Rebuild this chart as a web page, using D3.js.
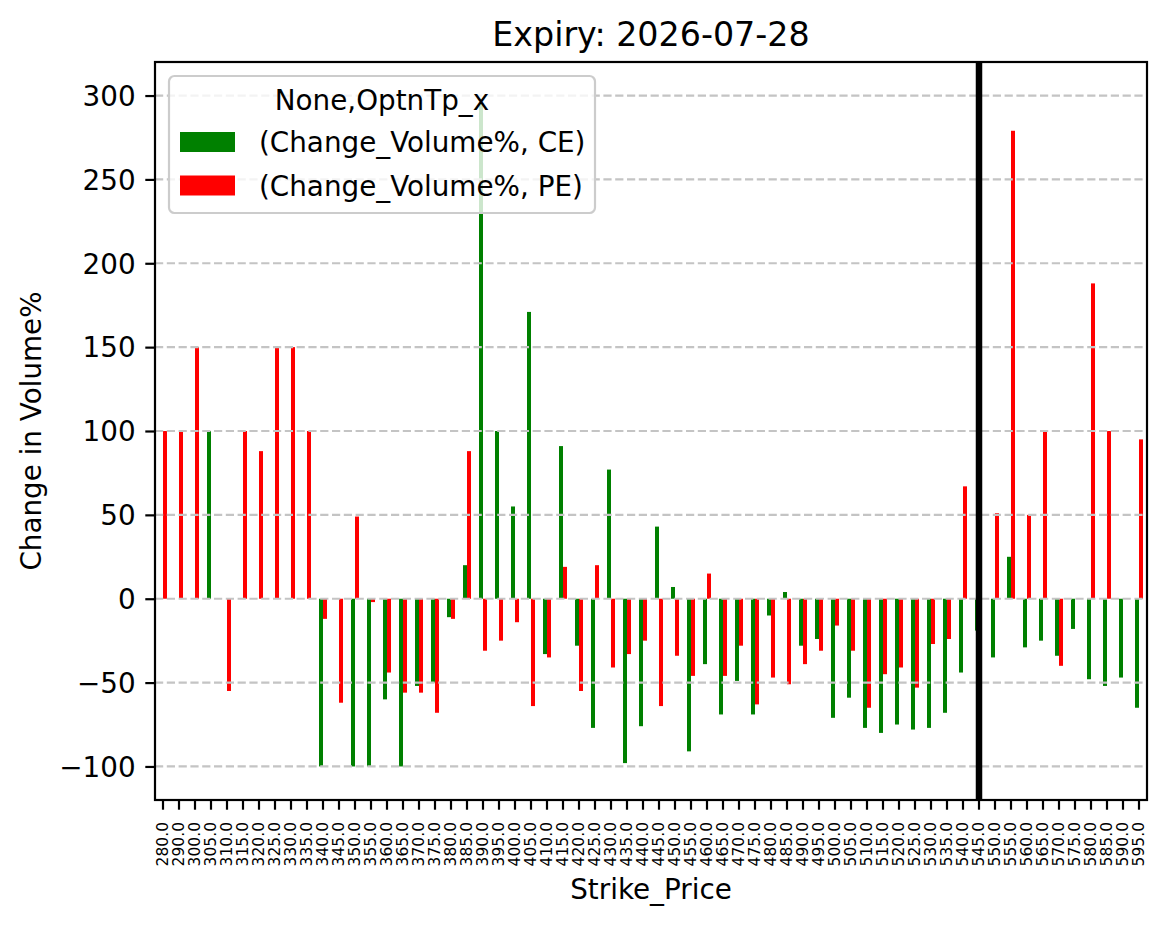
<!DOCTYPE html>
<html>
<head>
<meta charset="utf-8">
<script src="https://cdn.jsdelivr.net/npm/d3@7"></script>
<style>
  body { margin: 0; background: #fff; }
  text { font-family: "DejaVu Sans", sans-serif; fill: #000; }
</style>
</head>
<body>
<div id="chart"></div>
<script>
// strike prices (categories)
const strikes = [280, 290, 300, 305, 310, 315, 320, 325, 330, 335, 340, 345, 350, 355, 360, 365, 370, 375, 380, 385,
  390, 395, 400, 405, 410, 415, 420, 425, 430, 435, 440, 445, 450, 455, 460, 465, 470, 475, 480, 485,
  490, 495, 500, 505, 510, 515, 520, 525, 530, 535, 540, 545, 550, 555, 560, 565, 570, 575, 580, 585, 590, 595]

// (Change_Volume%, CE)
const ceChange = [null, null, null, 100, null, null, null, null, null, null, -100, null, -100, -100, -60, -100, -52, -50, -11, 20,
  295, 100, 55, 171, -33, 91, -28, -77, 77, -98, -76, 43, 7, -91, -39, -69, -49, -69, -10, 4,
  -28, -24, -71, -59, -77, -80, -75, -78, -77, -68, -44, -19, -35, 25, -29, -25, -34, -18, -48, -52, -47, -65]

// (Change_Volume%, PE)
const peChange = [100, 100, 150, null, -55, 100, 88, 150, 150, 100, -12, -62, 49, -2, -44, -56, -56, -68, -12, 88,
  -31, -25, -14, -64, -35, 19, -55, 20, -41, -33, -25, -64, -34, -46, 15, -46, -28, -63, -47, -51,
  -39, -31, -16, -31, -65, -45, -41, -53, -27, -24, 67, null, 51, 279, 50, 100, -40, null, 188, 100, null, 95]

const yTicks = [-100, -50, 0, 50, 100, 150, 200, 250, 300]
const spotStrike = 545

const width = 1167
const height = 928
const margin = { top: 62, right: 20, bottom: 128, left: 155 }
const plotRight = 1147
const plotBottom = 800

const svg = d3.select("#chart").append("svg")
  .attr("width", width)
  .attr("height", height)

svg.append("rect").attr("width", width).attr("height", height).attr("fill", "#fff")

const x = d3.scaleBand()
  .domain(strikes)
  .range([margin.left, plotRight])

const y = d3.scaleLinear()
  .domain([-120, 320])
  .range([plotBottom, margin.top])

const bw = x.bandwidth() * 0.25
const center = s => x(s) + x.bandwidth() / 2

// bars: CE on the left half, PE on the right half
const series = [
  { key: "CE", values: ceChange, color: "#008000", off: -bw },
  { key: "PE", values: peChange, color: "#ff0000", off: 0 }
]

series.forEach(sr => {
  svg.append("g")
    .attr("fill", sr.color)
    .selectAll("rect")
    .data(strikes.map((s, i) => ({ s, v: sr.values[i] })).filter(d => d.v !== null))
    .join("rect")
    .attr("x", d => center(d.s) + sr.off)
    .attr("y", d => y(Math.max(0, d.v)))
    .attr("width", bw)
    .attr("height", d => Math.abs(y(d.v) - y(0)))
})

// horizontal dashed grid (drawn over bars like matplotlib)
svg.append("g")
  .selectAll("line")
  .data(yTicks)
  .join("line")
  .attr("x1", margin.left)
  .attr("x2", plotRight)
  .attr("y1", d => y(d))
  .attr("y2", d => y(d))
  .attr("stroke", "#c4c4c4")
  .attr("stroke-width", 2.2)
  .attr("stroke-dasharray", "8.2,3.6")

// vertical line at the spot strike
svg.append("line")
  .attr("x1", center(spotStrike))
  .attr("x2", center(spotStrike))
  .attr("y1", margin.top)
  .attr("y2", plotBottom)
  .attr("stroke", "#000")
  .attr("stroke-width", 6.5)

// axes
const yAxis = g => g
  .attr("transform", `translate(${margin.left},0)`)
  .call(d3.axisLeft(y).tickValues(yTicks).tickSize(9.7).tickPadding(9.7).tickFormat(d3.format("d")))
  .call(g => g.select(".domain").remove())
  .call(g => g.selectAll(".tick line").attr("stroke-width", 2.2))
  .call(g => g.selectAll(".tick text")
    .attr("font-size", 27.8)
    .attr("font-family", "DejaVu Sans")
    .attr("dy", "0.35em"))

const xAxis = g => g
  .attr("transform", `translate(0,${plotBottom})`)
  .call(d3.axisBottom(x).tickSize(9.7).tickFormat(d => d.toFixed(1)))
  .call(g => g.select(".domain").remove())
  .call(g => g.selectAll(".tick line").attr("stroke-width", 2.2))
  .call(g => g.selectAll(".tick text")
    .attr("font-size", 15.5)
    .attr("font-family", "DejaVu Sans")
    .attr("text-anchor", "end")
    .attr("x", 0)
    .attr("y", 0)
    .attr("dy", "0.35em")
    .attr("transform", "translate(0,22) rotate(-90)"))

svg.append("g").call(yAxis)
svg.append("g").call(xAxis)

// frame
svg.append("rect")
  .attr("x", margin.left)
  .attr("y", margin.top)
  .attr("width", plotRight - margin.left)
  .attr("height", plotBottom - margin.top)
  .attr("fill", "none")
  .attr("stroke", "#000")
  .attr("stroke-width", 2.2)

// legend
const legend = svg.append("g")
legend.append("rect")
  .attr("x", 169).attr("y", 76)
  .attr("width", 426).attr("height", 137)
  .attr("rx", 5.5)
  .attr("fill", "#fff").attr("fill-opacity", 0.8)
  .attr("stroke", "#cccccc").attr("stroke-width", 2.2)
legend.append("text")
  .attr("x", 382).attr("y", 110)
  .attr("text-anchor", "middle")
  .attr("font-size", 27.8)
  .text("None,OptnTp_x")
series.forEach((sr, i) => {
  legend.append("rect")
    .attr("x", 180).attr("y", 132 + i * 43.5)
    .attr("width", 55).attr("height", 20)
    .attr("fill", sr.color)
  legend.append("text")
    .attr("x", 259).attr("y", 152 + i * 43.5)
    .attr("font-size", 27.8)
    .text(`(Change_Volume%, ${sr.key})`)
})

// titles
svg.append("text")
  .attr("x", (margin.left + plotRight) / 2).attr("y", 46)
  .attr("text-anchor", "middle")
  .attr("font-size", 33.3)
  .text("Expiry: 2026-07-28")

svg.append("text")
  .attr("x", (margin.left + plotRight) / 2).attr("y", 899)
  .attr("text-anchor", "middle")
  .attr("font-size", 27.8)
  .text("Strike_Price")

svg.append("text")
  .attr("transform", `translate(41,${(margin.top + plotBottom) / 2}) rotate(-90)`)
  .attr("text-anchor", "middle")
  .attr("font-size", 27.8)
  .text("Change in Volume%")
</script>
</body>
</html>
